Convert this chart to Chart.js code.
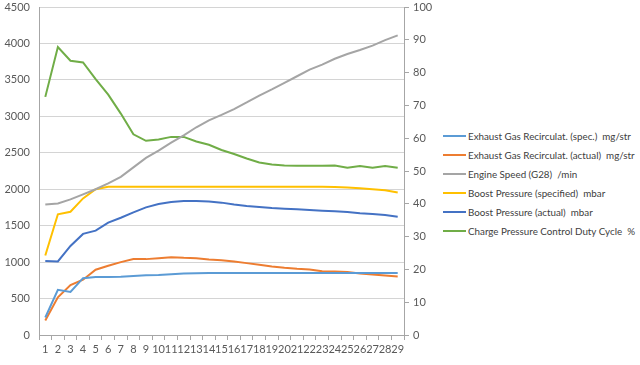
<!DOCTYPE html>
<html>
<head>
<meta charset="utf-8">
<script src="https://cdn.jsdelivr.net/npm/chart.js@4"></script>
<style>
    html, body { margin: 0; padding: 0; background: #fff; }
    #wrap { position: relative; width: 640px; height: 365px; overflow: hidden; }
    #chartBox { position: absolute; left: 0; top: 0; width: 440px; height: 365px; }
    #legend { position: absolute; left: 443px; top: 126px; font: 9.8px Lato, sans-serif; color: #404040; }
    .item { height: 19.1px; display: flex; align-items: center; white-space: pre; }
    .swatch { display: inline-block; width: 23px; height: 2px; margin-right: 2px; }
</style>
</head>
<body>
<div id="wrap">
    <div id="chartBox"><canvas id="chartEngine" width="440" height="365"></canvas></div>
    <div id="legend"></div>
</div>
<script>
const samples = ['1', '2', '3', '4', '5', '6', '7', '8', '9', '10', '11', '12', '13', '14', '15',
    '16', '17', '18', '19', '20', '21', '22', '23', '24', '25', '26', '27', '28', '29'];

const egrSpec = [240, 620, 590, 780, 795, 795, 800, 810, 820, 822, 835, 845, 848, 850, 850,
    850, 850, 850, 850, 850, 850, 850, 850, 850, 850, 850, 850, 850, 850];
const egrActual = [200, 516, 686, 758, 895, 949, 1000, 1041, 1041, 1054, 1068, 1059, 1054, 1035, 1027,
    1008, 986, 963, 940, 922, 908, 899, 876, 872, 863, 844, 830, 817, 803];
const engineSpeed = [1790, 1805, 1860, 1930, 2000, 2080, 2170, 2300, 2430, 2530, 2640, 2740, 2850, 2945, 3020,
    3100, 3190, 3285, 3370, 3460, 3550, 3640, 3710, 3790, 3855, 3910, 3970, 4045, 4110];
const boostSpec = [1090, 1656, 1691, 1874, 2001, 2033, 2035, 2035, 2035, 2035, 2035, 2035, 2035, 2035, 2035,
    2035, 2035, 2035, 2035, 2035, 2035, 2035, 2035, 2030, 2025, 2015, 2000, 1985, 1955];
const boostActual = [1015, 1010, 1222, 1387, 1432, 1541, 1609, 1683, 1751, 1796, 1824, 1837, 1837, 1830, 1816,
    1789, 1770, 1755, 1742, 1733, 1724, 1715, 1706, 1697, 1687, 1669, 1660, 1646, 1623];
const dutyCycle = [72.6, 87.8, 83.6, 83.1, 78.0, 73.3, 67.5, 61.2, 59.2, 59.6, 60.4, 60.4, 59.0, 58.0, 56.4,
    55.2, 53.8, 52.6, 52.0, 51.7, 51.6, 51.6, 51.6, 51.7, 51.0, 51.5, 51.0, 51.5, 51.0];

const seriesNames = [
    'Exhaust Gas Recirculat. (spec.)  mg/str',
    'Exhaust Gas Recirculat. (actual)  mg/str',
    'Engine Speed (G28)  /min',
    'Boost Pressure (specified)  mbar',
    'Boost Pressure (actual)  mbar',
    'Charge Pressure Control Duty Cycle  %',
];

const colors = ['#5b9bd5', '#ed7d31', '#a5a5a5', '#ffc000', '#4472c4', '#70ad47'];

const tickFont = { family: 'Lato, sans-serif', size: 11 };
const tickColor = '#595959';

function makeSet(i, data, axis) {
    return {
        label: seriesNames[i],
        data: data,
        borderColor: colors[i],
        backgroundColor: colors[i],
        borderWidth: 2,
        pointRadius: 0,
        tension: 0,
        yAxisID: axis,
    };
}

// fixed axis box so the plot area lines up with the picture
function fixVertical(width) {
    return (s) => {
        s.width = width;
        s.paddingTop = 7;
        s.paddingBottom = 7;
    };
}

document.addEventListener('DOMContentLoaded', () => {
    const el = document.getElementById('chartEngine');

    new Chart(el, {
        type: 'line',
        data: {
            labels: samples,
            datasets: [
                makeSet(0, egrSpec, 'y'),
                makeSet(1, egrActual, 'y'),
                makeSet(2, engineSpeed, 'y'),
                makeSet(3, boostSpec, 'y'),
                makeSet(4, boostActual, 'y'),
                makeSet(5, dutyCycle, 'y1'),
            ],
        },
        options: {
            responsive: false,
            animation: false,
            layout: { padding: 0 },
            plugins: {
                legend: { display: false },
                tooltip: { enabled: false },
            },
            scales: {
                x: {
                    offset: true,
                    grid: {
                        offset: true,
                        drawOnChartArea: false,
                        drawTicks: true,
                        tickLength: 5,
                        color: '#a6a6a6',
                    },
                    border: { color: '#a6a6a6' },
                    ticks: {
                        autoSkip: false,
                        maxRotation: 0,
                        padding: 3,
                        font: tickFont,
                        color: tickColor,
                    },
                    afterFit: (s) => { s.height = 30; },
                },
                y: {
                    position: 'left',
                    min: 0,
                    max: 4500,
                    grid: { color: '#d4d4d4', drawTicks: false },
                    border: { color: '#a6a6a6' },
                    ticks: {
                        stepSize: 500,
                        padding: 9,
                        font: tickFont,
                        color: tickColor,
                        callback: (v) => String(v),
                    },
                    afterFit: fixVertical(39),
                },
                y1: {
                    position: 'right',
                    min: 0,
                    max: 100,
                    grid: { drawOnChartArea: false, tickLength: 5, color: '#a6a6a6' },
                    border: { color: '#a6a6a6' },
                    ticks: { stepSize: 10, padding: 4, font: tickFont, color: tickColor },
                    afterFit: fixVertical(36),
                },
            },
        },
    });

    const legend = document.getElementById('legend');
    seriesNames.forEach((name, i) => {
        const row = document.createElement('div');
        row.className = 'item';
        const sw = document.createElement('span');
        sw.className = 'swatch';
        sw.style.background = colors[i];
        const txt = document.createElement('span');
        txt.textContent = name;
        row.appendChild(sw);
        row.appendChild(txt);
        legend.appendChild(row);
    });
});
</script>
</body>
</html>
